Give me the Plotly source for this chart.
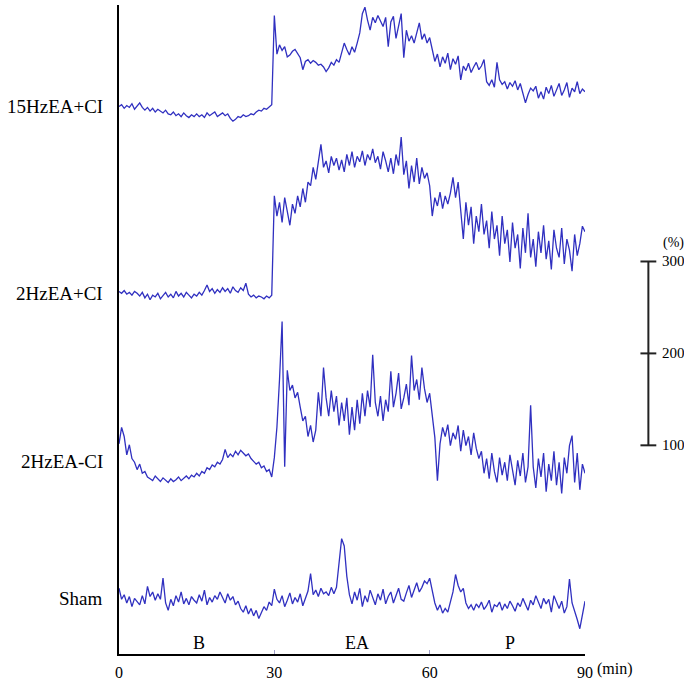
import plotly.graph_objects as go

# time axis (min), sampled every 0.5 min
minutes = [i * 0.5 for i in range(181)]

# values, in % of baseline
hz15_ci = [
    101, 103, 99, 102, 100, 104, 98, 101, 105, 100,
    97, 100, 96, 99, 95, 98, 96, 94, 97, 93,
    92, 95, 91, 93, 90, 94, 91, 89, 92, 90,
    93, 90, 92, 89, 94, 91, 93, 95, 90, 92,
    94, 91, 93, 88, 85, 87, 90, 89, 92, 90,
    91, 93, 92, 95, 97, 96, 99, 98, 101, 103,
    200,
    158, 168, 162, 166, 155, 157, 161, 163, 159,
    154, 141, 150, 152, 148, 151, 149, 146, 147, 144,
    139, 143, 149, 146, 152, 149, 159, 170, 163, 157,
    166, 160, 170, 181, 202, 209, 195, 184, 198, 192,
    200, 194, 188, 198, 166, 193, 199, 175, 190, 202,
    154, 184, 172, 178, 170, 181, 192, 174, 180, 170,
    176, 163, 150, 158, 144, 155, 148, 159, 141, 153,
    147, 156, 130, 145, 140, 148, 138, 144, 149, 141,
    145, 152, 128, 124, 130, 122, 149, 130, 125, 128,
    120, 127, 123, 129, 119, 126, 116, 105, 114, 121,
    118, 123, 110, 117, 109, 122, 115, 124, 112, 120,
    126, 113, 119, 127, 111, 121, 117, 128, 115, 120,
    117,
]

hz2_ci = [
    103, 101, 104, 100, 102, 99, 103, 101, 98, 102,
    96, 100, 94, 99, 97, 101, 95, 98, 102, 97,
    100, 96, 103, 98, 101, 97, 102, 99, 96, 100,
    98, 102, 99, 104, 110, 103, 106, 101, 105, 102,
    107, 103, 106, 101, 108, 104, 102, 107, 104, 112,
    100, 97, 99, 96, 98, 97, 95, 98, 96, 99,
    207,
    185, 200, 178, 205, 190, 175, 198, 188, 207,
    195, 215, 200, 222, 218, 238, 225, 244, 263, 238,
    245, 232, 250, 240, 248, 235, 246, 233, 252, 240,
    255, 238, 250, 244, 256, 240, 252, 246, 258, 243,
    250, 236, 255, 245, 233, 248, 231, 252, 240, 271,
    230, 245, 215, 240, 222, 248, 220, 238, 226, 232,
    218, 185, 205, 196, 211, 193, 207, 198, 210, 227,
    205, 222, 190, 160, 200, 175, 195, 155, 185, 168,
    198, 165, 180, 150, 190, 160, 175, 142, 185, 155,
    170, 135, 178, 150, 165, 128, 172, 145, 188, 140,
    160, 130, 168, 145, 175, 138, 158, 127, 170, 150,
    140, 172, 133, 160, 148, 125, 165, 142, 155, 174,
    168,
]

hz2_noci = [
    120, 138, 128, 108, 119, 104, 100, 92, 98, 88,
    90, 84, 82, 80, 85, 82, 79, 83, 80, 78,
    82, 79, 81, 84, 80, 83, 85, 82, 86, 84,
    88, 85, 90, 88, 94, 92, 97, 95, 100, 98,
    103, 114, 105, 109, 106, 112, 108, 113, 110, 107,
    109, 104, 101, 98, 100, 94, 96, 90, 92, 84,
    105,
    138, 190, 253, 95, 200, 178, 184, 170, 176,
    160, 145, 150, 128, 140, 122, 135, 176, 150, 203,
    170, 150, 178, 155, 172, 140, 165, 145, 170, 130,
    160, 135, 168, 142, 175, 150, 178, 160, 217, 165,
    150, 172, 145, 168, 155, 199, 160, 175, 197, 158,
    170, 185, 162, 216, 178, 190, 168, 203, 180, 165,
    175, 150, 127, 80, 120, 138, 128, 141, 118, 132,
    125, 140, 112, 135, 118, 128, 108, 132, 115, 104,
    112, 88, 104, 82, 110, 90, 78, 105, 86, 100,
    80, 108, 92, 75, 102, 85, 110, 78, 95, 162,
    95, 72, 104, 84, 110, 68, 98, 80, 112, 75,
    100, 66, 105, 88, 118, 129, 78, 110, 70, 98,
    88,
]

sham = [
    112, 100, 105, 96, 103, 92, 101, 98, 94, 104,
    95, 114, 103, 108, 99, 106, 100, 123, 96, 88,
    100, 93, 104, 97, 108, 95, 101, 94, 103, 99,
    96, 105, 98, 110, 94, 102, 97, 104, 100, 108,
    101, 96, 106, 99, 103, 94, 98, 90, 86, 93,
    84, 90, 82, 88, 79, 85, 92, 88, 97, 93,
    111,
    100, 96, 104, 92, 99, 107, 95, 102, 97,
    106, 93, 100, 109, 128, 105, 110, 103, 112, 106,
    108, 104, 113, 106, 113, 140, 166, 158, 125, 105,
    95, 108, 99, 112, 92, 104, 97, 110, 101, 94,
    106, 99, 111, 95, 103, 108, 96, 104, 112, 100,
    98, 107, 115, 102, 110, 118, 108, 113, 120, 117,
    123, 110, 96, 88, 94, 85, 90, 86, 97, 108,
    127, 115, 108, 112, 96, 90, 94, 88, 95, 91,
    97, 89, 93, 99, 86, 94, 92, 97, 88, 95,
    90, 98, 93, 87, 96, 92, 101, 95, 88, 99,
    94, 104, 97, 90, 101, 95, 100, 86, 104, 96,
    90, 98, 85, 92, 122, 96, 88, 78, 68, 85,
    98,
]

trace_names = ["15HzEA+CI", "2HzEA+CI", "2HzEA-CI", "Sham"]
trace_values = [hz15_ci, hz2_ci, hz2_noci, sham]
trace_offsets = [494.6, 291.4, 108.6, -40.5]   # vertical stacking offsets

x_ticks = [0, 30, 60, 90]
x_ticktext = ["0", "30", "60", "90"]
phase_labels = ["B", "EA", "P"]
phase_centers = [15.5, 46, 75.5]
scale_values = [100, 200, 300]
scale_offset = 127.0

Y_MAX = 706.0
SERIF = "Liberation Serif, Times New Roman, serif"
LINE_COLOR = "#3030c0"

fig = go.Figure()

for name, vals, off in zip(trace_names, trace_values, trace_offsets):
    fig.add_trace(go.Scatter(
        x=minutes, y=[v + off for v in vals], mode="lines",
        line=dict(color=LINE_COLOR, width=1.3), showlegend=False,
        hoverinfo="skip",
    ))
    fig.add_annotation(
        x=0, y=100 + off, xref="x", yref="y", text=name,
        xanchor="right", yanchor="middle", xshift=-14, yshift=1,
        showarrow=False, font=dict(family=SERIF, size=19, color="black"),
    )

for lab, c in zip(phase_labels, phase_centers):
    fig.add_annotation(
        x=c, y=12, xref="x", yref="y", text=lab, showarrow=False,
        xanchor="center", yanchor="middle",
        font=dict(family=SERIF, size=18, color="black"),
    )

fig.add_annotation(
    x=90, y=0, xref="x", yref="paper", text="(min)", showarrow=False,
    xanchor="left", yanchor="top", xshift=10, yshift=-4,
    font=dict(family=SERIF, size=16, color="black"),
)

# scale bar on the right
bar_x = 1.136
tick_half = 0.017
y_lo = (scale_values[0] + scale_offset) / Y_MAX
y_hi = (scale_values[-1] + scale_offset) / Y_MAX
fig.add_shape(type="line", xref="paper", yref="paper", x0=bar_x, x1=bar_x,
              y0=y_lo, y1=y_hi, line=dict(color="#222222", width=2))
for v in scale_values:
    yp = (v + scale_offset) / Y_MAX
    fig.add_shape(type="line", xref="paper", yref="paper",
                  x0=bar_x - tick_half, x1=bar_x + tick_half, y0=yp, y1=yp,
                  line=dict(color="#222222", width=2))
    fig.add_annotation(x=bar_x + 0.024, y=yp, xref="paper", yref="paper",
                       text=str(v), showarrow=False, xanchor="left",
                       yanchor="middle",
                       font=dict(family=SERIF, size=15, color="black"))
fig.add_annotation(x=bar_x + 0.028, y=y_hi + 0.028, xref="paper", yref="paper",
                   text="(%)", showarrow=False, xanchor="left",
                   yanchor="middle",
                   font=dict(family=SERIF, size=14, color="black"))

fig.update_layout(
    width=684, height=686,
    margin=dict(l=119, r=99, t=5, b=28, pad=0),
    paper_bgcolor="white", plot_bgcolor="white",
    showlegend=False,
    xaxis=dict(
        range=[0, 90], tickvals=x_ticks, ticktext=x_ticktext,
        showline=True, linecolor="black", linewidth=1.6,
        ticks="inside", ticklen=4, tickcolor="#a0a0c8", tickwidth=1,
        showgrid=False, zeroline=False, ticklabelstandoff=3,
        tickfont=dict(family=SERIF, size=16, color="black"),
    ),
    yaxis=dict(
        range=[0, Y_MAX], showline=True, linecolor="black", linewidth=1.6,
        showticklabels=False, ticks="", showgrid=False, zeroline=False,
    ),
)

fig.write_html("out.html")
